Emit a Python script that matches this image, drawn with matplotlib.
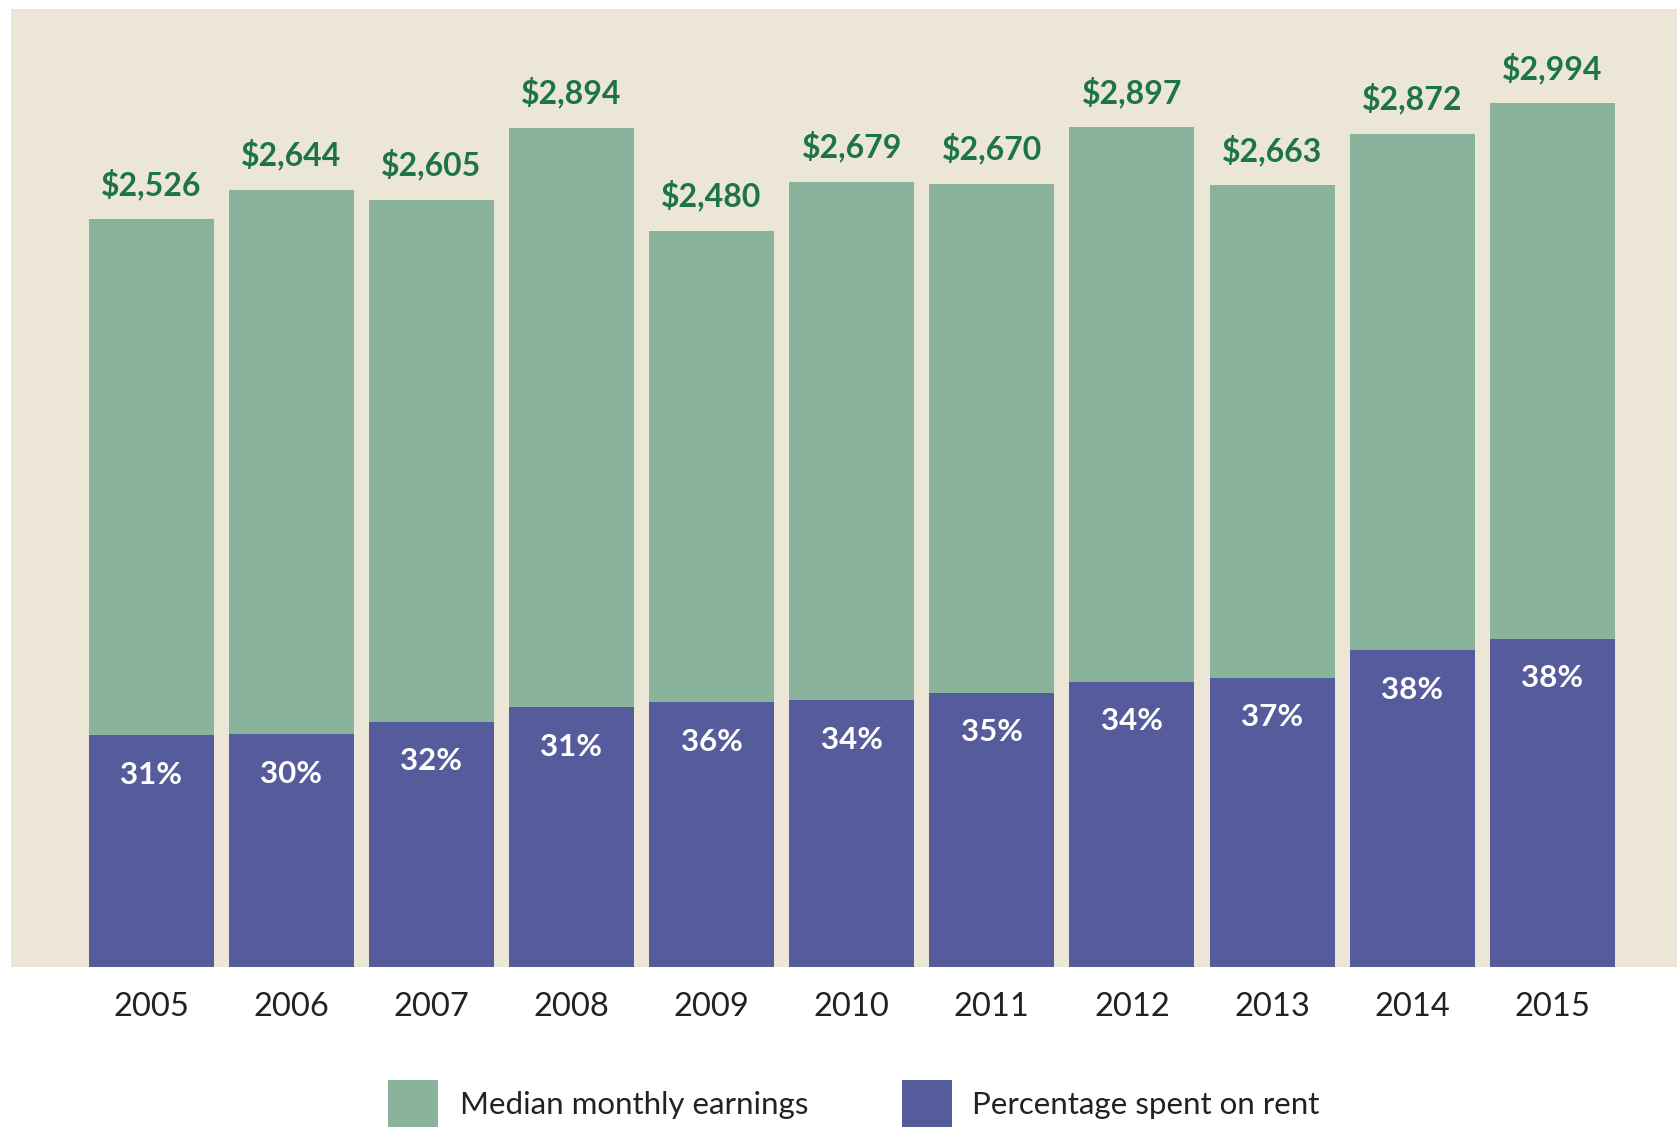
import matplotlib
matplotlib.use("Agg")
import matplotlib.pyplot as plt
from matplotlib.patches import Rectangle

years = ["2005", "2006", "2007", "2008", "2009", "2010", "2011", "2012", "2013", "2014", "2015"]
earnings = [2526, 2644, 2605, 2894, 2480, 2679, 2670, 2897, 2663, 2872, 2994]
rent_pct = [31, 30, 32, 31, 36, 34, 35, 34, 37, 38, 38]
legend_labels = ["Median monthly earnings", "Percentage spent on rent"]

GREEN = "#89b39b"
PURPLE = "#565b9b"
BEIGE = "#ece6d6"
LABEL_GREEN = "#1d7447"
BASE = -490  # visual baseline of the original drawing

W, H = 1677, 1127
fig = plt.figure(figsize=(W / 100, H / 100), dpi=100, facecolor="white")
ax = fig.add_axes([11 / W, 1 - 967 / H, 1 - 11 / W, (967 - 9) / H])
ax.set_facecolor(BEIGE)

x = list(range(len(years)))
totals = [e - BASE for e in earnings]
rent_h = [t * p / 100 for t, p in zip(totals, rent_pct)]
green_h = [t - r for t, r in zip(totals, rent_h)]
rent_top = [BASE + r for r in rent_h]

ax.bar(x, rent_h, bottom=BASE, width=0.892, color=PURPLE, linewidth=0)
ax.bar(x, green_h, bottom=rent_top, width=0.892, color=GREEN, linewidth=0)

ax.set_xlim(-1.0, 10.89)
ax.set_ylim(BASE, 3375)
for s in ax.spines.values():
    s.set_visible(False)
ax.set_xticks([])
ax.set_yticks([])

for i in x:
    ax.annotate(f"${earnings[i]:,}", (i, earnings[i]), xytext=(0, 25.5), textcoords="offset points",
                ha="center", va="center", fontsize=23, fontweight="bold", color=LABEL_GREEN,
                family="Lato")
    ax.annotate(f"{rent_pct[i]}%", (i, rent_top[i]), xytext=(0, -28.5), textcoords="offset points",
                ha="center", va="center", fontsize=22.5, fontweight="bold", color="white",
                family="Lato")
    ax.annotate(years[i], (i, 0), xycoords=("data", "axes fraction"), xytext=(0, -29),
                textcoords="offset points", ha="center", va="center", fontsize=23.5,
                color="#222222", family="Lato", annotation_clip=False)

# legend
for (x0, col, lab, tx) in [(388, GREEN, legend_labels[0], 460), (902, PURPLE, legend_labels[1], 972)]:
    fig.patches.append(Rectangle((x0 / W, -0.05), 50 / W, (1 - 1080 / H) + 0.05,
                                 transform=fig.transFigure, color=col, linewidth=0))
    fig.text(tx / W, 1 - 1105 / H, lab, ha="left", va="center", fontsize=22.5,
             color="#222222", family="Lato")

fig.savefig("out.png", dpi=100, facecolor="white")
